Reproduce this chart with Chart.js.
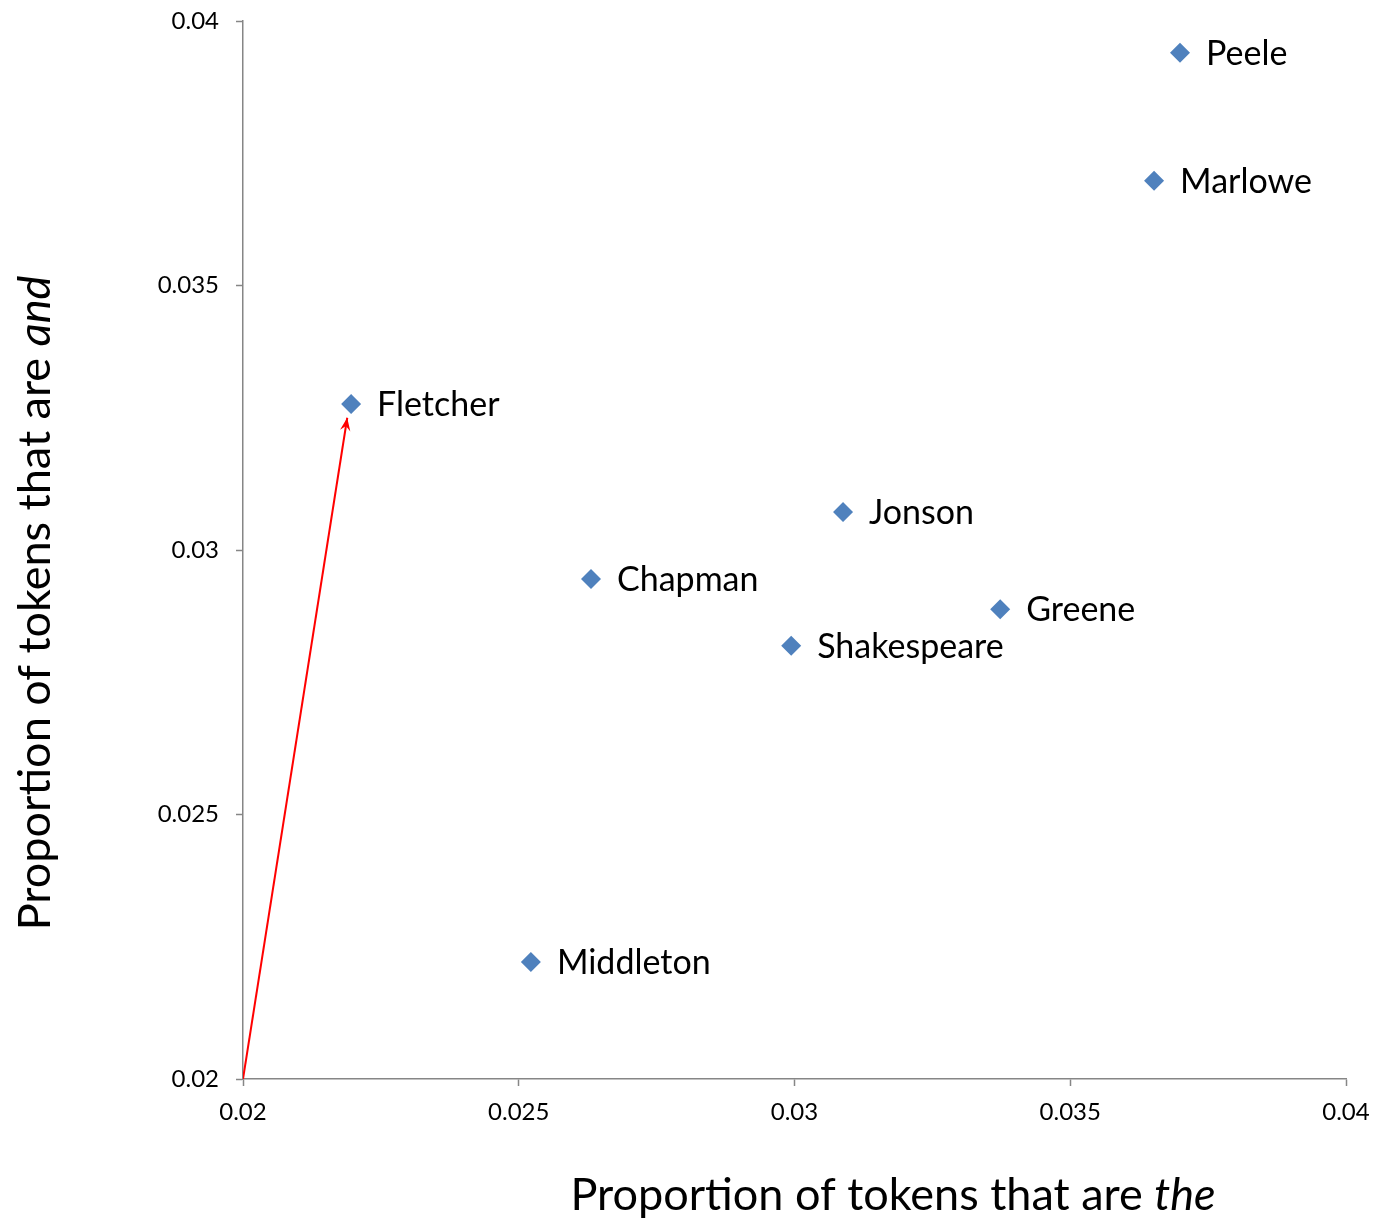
<!DOCTYPE html>
<html>
<head>
<meta charset="utf-8">
<script src="https://cdn.jsdelivr.net/npm/chart.js@4"></script>
<style>
  body { margin: 0; background: #fff; }
  #wrap { width: 1376px; height: 1222px; }
</style>
</head>
<body>
<div id="wrap"><canvas id="tokensChart" width="1376" height="1222"></canvas></div>
<script>
const authors = ["Peele", "Marlowe", "Fletcher", "Jonson", "Chapman", "Greene", "Shakespeare", "Middleton"];
const theShare = [0.03699, 0.03652, 0.02196, 0.03088, 0.02631, 0.03373, 0.02994, 0.02522];
const andShare = [0.03940, 0.03698, 0.03276, 0.03072, 0.02945, 0.02888, 0.02819, 0.02221];
const tickLabels = ["0.02", "0.025", "0.03", "0.035", "0.04"];
// red arrow: from the origin of the plot to just under Fletcher
const arrowX = [0.02, 0.02189];
const arrowY = [0.02, 0.0325];

const FONT = "Lato, 'Open Sans', sans-serif";
const ctx = document.getElementById("tokensChart").getContext("2d");

const points = authors.map((name, i) => ({ x: theShare[i], y: andShare[i], name }));
const arrow = arrowX.map((x, i) => ({ x, y: arrowY[i] }));

function tickText(value) {
  const label = String(+value.toFixed(3));
  return tickLabels.includes(label) ? label : "";
}

// draws the author names, the arrow head and the two axis titles
const extras = {
  id: "extras",
  afterDatasetsDraw(chart) {
    const c = chart.ctx;
    const xs = chart.scales.x;
    const ys = chart.scales.y;

    c.save();
    c.fillStyle = "#000";
    c.font = "34px " + FONT;
    c.textBaseline = "middle";
    c.textAlign = "left";
    points.forEach((p) => {
      c.fillText(p.name, xs.getPixelForValue(p.x) + 26, ys.getPixelForValue(p.y) + 1);
    });

    // arrow head at the end of the red line
    const x0 = xs.getPixelForValue(arrow[0].x);
    const y0 = ys.getPixelForValue(arrow[0].y);
    const x1 = xs.getPixelForValue(arrow[1].x);
    const y1 = ys.getPixelForValue(arrow[1].y);
    const ang = Math.atan2(y1 - y0, x1 - x0);
    const len = 14;
    c.fillStyle = "#ff0000";
    c.beginPath();
    c.moveTo(x1, y1);
    c.lineTo(x1 - len * Math.cos(ang - 0.38), y1 - len * Math.sin(ang - 0.38));
    c.lineTo(x1 - len * 0.6 * Math.cos(ang), y1 - len * 0.6 * Math.sin(ang));
    c.lineTo(x1 - len * Math.cos(ang + 0.38), y1 - len * Math.sin(ang + 0.38));
    c.closePath();
    c.fill();

    c.fillStyle = "#000";
    drawTitle(c, 893, 1195, 0, "Proportion of tokens that are ", "the");
    drawTitle(c, 35, 603, -Math.PI / 2, "Proportion of tokens that are ", "and");
    c.restore();
  },
};

function drawTitle(c, cx, cy, rot, plain, italic) {
  const size = 45;
  c.save();
  c.translate(cx, cy);
  c.rotate(rot);
  c.textBaseline = "middle";
  c.textAlign = "left";
  c.font = size + "px " + FONT;
  const w1 = c.measureText(plain).width;
  c.font = "italic " + size + "px " + FONT;
  const w2 = c.measureText(italic).width;
  const start = -(w1 + w2) / 2;
  c.font = size + "px " + FONT;
  c.fillText(plain, start, 0);
  c.font = "italic " + size + "px " + FONT;
  c.fillText(italic, start + w1, 0);
  c.restore();
}

const axisStyle = {
  type: "linear",
  min: 0.02,
  max: 0.04,
  grid: {
    drawOnChartArea: false,
    drawTicks: true,
    tickLength: 7,
    tickColor: "#868686",
    tickWidth: 1.5,
  },
  border: { color: "#868686", width: 1.5 },
};

new Chart(ctx, {
  type: "scatter",
  data: {
    datasets: [
      {
        data: points,
        pointStyle: "rectRot",
        pointRadius: 10,
        pointHoverRadius: 10,
        backgroundColor: "#4f81bd",
        borderColor: "#4f81bd",
        borderWidth: 0,
      },
      {
        data: arrow,
        showLine: true,
        borderColor: "#ff0000",
        borderWidth: 2,
        pointRadius: 0,
        pointHoverRadius: 0,
      },
    ],
  },
  options: {
    responsive: false,
    animation: false,
    layout: { padding: { top: 21, right: 30, left: 0, bottom: 0 } },
    plugins: {
      legend: { display: false },
      tooltip: { enabled: false },
    },
    scales: {
      x: {
        ...axisStyle,
        position: "bottom",
        ticks: {
          stepSize: 0.005,
          padding: 12,
          color: "#000",
          font: { family: FONT, size: 24 },
          maxRotation: 0,
          callback: tickText,
        },
        afterFit: (scale) => {
          scale.height = 143;
          scale.paddingLeft = 0;
          scale.paddingRight = 0;
        },
      },
      y: {
        ...axisStyle,
        position: "left",
        ticks: {
          stepSize: 0.005,
          padding: 17,
          color: "#000",
          font: { family: FONT, size: 24 },
          callback: tickText,
        },
        afterFit: (scale) => {
          scale.width = 243;
          scale.paddingTop = 0;
          scale.paddingBottom = 0;
        },
      },
    },
  },
  plugins: [extras],
});
</script>
</body>
</html>
